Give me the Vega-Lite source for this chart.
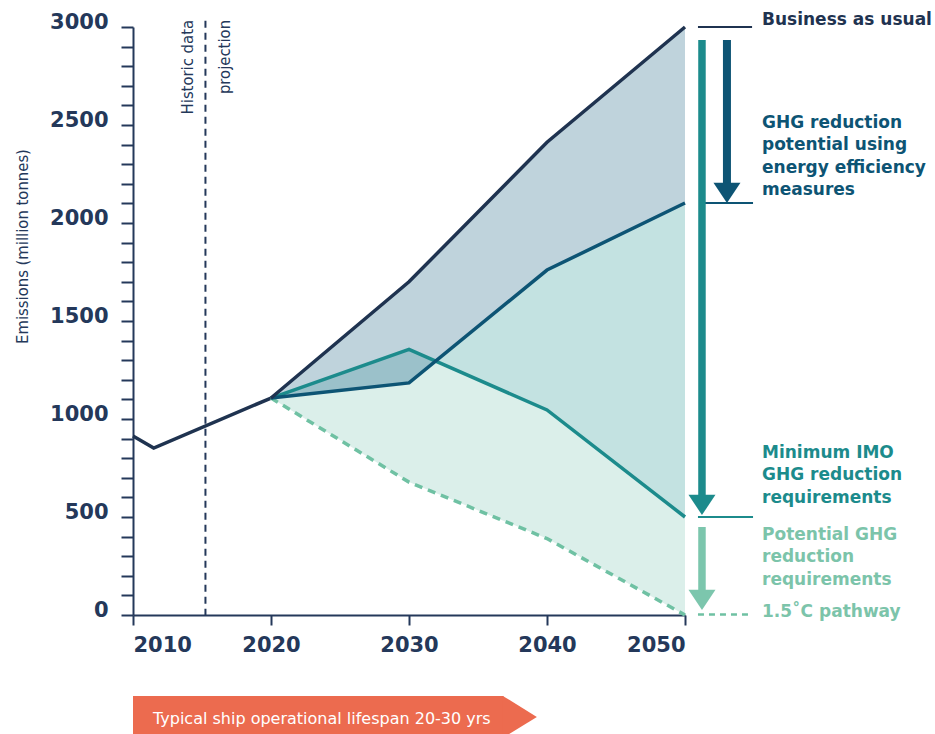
{
  "$schema": "https://vega.github.io/schema/vega-lite/v6.json",
  "width": 552,
  "height": 588,
  "autosize": {"type": "none"},
  "padding": {"left": 133, "top": 27, "right": 250, "bottom": 119},
  "background": "white",
  "config": {"view": {"stroke": null}},
  "resolve": {"axis": {"x": "independent", "y": "independent"}},
  "datasets": {
    "hist": [
      {"year": 2010, "value": 913},
      {"year": 2011.5, "value": 852},
      {"year": 2020, "value": 1107}
    ],
    "proj": [
      {"year": 2020, "bau": 1107, "eff": 1107, "imo": 1107, "p15": 1107},
      {"year": 2030, "bau": 1700, "eff": 1184, "imo": 1355, "p15": 678},
      {"year": 2040, "bau": 2412, "eff": 1760, "imo": 1046, "p15": 390},
      {"year": 2050, "bau": 3000, "eff": 2102, "imo": 500, "p15": 0}
    ],
    "blank": [{}]
  },
  "layer": [
    {
      "data": {"name": "proj"},
      "mark": {"type": "area", "color": "#dbefea"},
      "encoding": {
        "x": {"field": "year", "type": "quantitative",
          "scale": {"domain": [2010, 2050], "nice": false, "zero": false},
          "axis": {"values": [2010, 2020, 2030, 2040, 2050], "format": "d", "title": null, "grid": false,
            "tickSize": 10, "tickWidth": 2, "tickColor": "#24385a", "domainColor": "#24385a", "domainWidth": 2,
            "labelFont": "DejaVu Sans", "labelFontWeight": "bold", "labelFontSize": 21, "labelColor": "#24385a",
            "labelPadding": 9, "labelFlush": true, "labelOverlap": false}},
        "y": {"field": "p15", "type": "quantitative",
          "scale": {"domain": [0, 3000], "nice": false, "zero": false},
          "axis": {"values": [0,100,200,300,400,500,600,700,800,900,1000,1100,1200,1300,1400,1500,1600,1700,1800,1900,2000,2100,2200,2300,2400,2500,2600,2700,2800,2900,3000],
            "format": "d", "labelExpr": "datum.value % 500 === 0 ? datum.label : ''", "grid": false,
            "tickSize": 12, "tickWidth": 2, "tickColor": "#24385a", "domainColor": "#24385a", "domainWidth": 2,
            "labelFont": "DejaVu Sans", "labelFontWeight": "bold", "labelFontSize": 21, "labelColor": "#24385a",
            "labelPadding": 13, "labelBaseline": "middle", "labelOffset": -5, "labelOverlap": false, "labelBound": false,
            "title": "Emissions (million tonnes)", "titleFont": "Liberation Sans Narrow, DejaVu Sans Condensed, sans-serif",
            "titleFontWeight": "normal", "titleFontSize": 16.5, "titleColor": "#24385a",
            "titleX": -111, "titleY": 219, "titleAngle": -90, "titleAlign": "center", "titleBaseline": "middle"}},
        "y2": {"field": "imo"}
      }
    },
    {
      "data": {"name": "proj"},
      "mark": {"type": "area", "color": "#c3e2e1"},
      "encoding": {
        "x": {"field": "year", "type": "quantitative", "scale": {"domain": [2010, 2050], "nice": false, "zero": false}, "axis": null},
        "y": {"field": "imo", "type": "quantitative", "scale": {"domain": [0, 3000], "nice": false, "zero": false}, "axis": null},
        "y2": {"field": "eff"}
      }
    },
    {
      "data": {"name": "proj"},
      "mark": {"type": "area", "color": "#5f91a8", "opacity": 0.4},
      "encoding": {
        "x": {"field": "year", "type": "quantitative", "scale": {"domain": [2010, 2050], "nice": false, "zero": false}, "axis": null},
        "y": {"field": "eff", "type": "quantitative", "scale": {"domain": [0, 3000], "nice": false, "zero": false}, "axis": null},
        "y2": {"field": "bau"}
      }
    },
    {
      "data": {"name": "hist"},
      "mark": {"type": "line", "color": "#1f3350", "strokeWidth": 3.5},
      "encoding": {
        "x": {"field": "year", "type": "quantitative", "scale": {"domain": [2010, 2050], "nice": false, "zero": false}, "axis": null},
        "y": {"field": "value", "type": "quantitative", "scale": {"domain": [0, 3000], "nice": false, "zero": false}, "axis": null}
      }
    },
    {
      "data": {"name": "proj"},
      "mark": {"type": "line", "color": "#6fc1a3", "strokeWidth": 3.5, "strokeDash": [8, 6]},
      "encoding": {
        "x": {"field": "year", "type": "quantitative", "scale": {"domain": [2010, 2050], "nice": false, "zero": false}, "axis": null},
        "y": {"field": "p15", "type": "quantitative", "scale": {"domain": [0, 3000], "nice": false, "zero": false}, "axis": null}
      }
    },
    {
      "data": {"name": "proj"},
      "mark": {"type": "line", "color": "#1c8b8c", "strokeWidth": 3.5},
      "encoding": {
        "x": {"field": "year", "type": "quantitative", "scale": {"domain": [2010, 2050], "nice": false, "zero": false}, "axis": null},
        "y": {"field": "imo", "type": "quantitative", "scale": {"domain": [0, 3000], "nice": false, "zero": false}, "axis": null}
      }
    },
    {
      "data": {"name": "proj"},
      "mark": {"type": "line", "color": "#0d5474", "strokeWidth": 3.5},
      "encoding": {
        "x": {"field": "year", "type": "quantitative", "scale": {"domain": [2010, 2050], "nice": false, "zero": false}, "axis": null},
        "y": {"field": "eff", "type": "quantitative", "scale": {"domain": [0, 3000], "nice": false, "zero": false}, "axis": null}
      }
    },
    {
      "data": {"name": "proj"},
      "mark": {"type": "line", "color": "#1f3350", "strokeWidth": 3.5},
      "encoding": {
        "x": {"field": "year", "type": "quantitative", "scale": {"domain": [2010, 2050], "nice": false, "zero": false}, "axis": null},
        "y": {"field": "bau", "type": "quantitative", "scale": {"domain": [0, 3000], "nice": false, "zero": false}, "axis": null}
      }
    },
    {
      "data": {"name": "blank"},
      "mark": {"type": "rule", "color": "#24385a", "strokeWidth": 2, "strokeDash": [7, 5]},
      "encoding": {
        "x": {"datum": 2015.25, "type": "quantitative", "axis": null},
        "y": {"datum": 3032, "type": "quantitative", "axis": null},
        "y2": {"datum": 0}
      }
    },
    {
      "data": {"name": "blank"},
      "mark": {"type": "text", "text": "Historic data", "angle": 270, "align": "right", "baseline": "alphabetic",
        "font": "Liberation Sans Narrow, DejaVu Sans Condensed, sans-serif", "fontSize": 16.5, "color": "#24385a"},
      "encoding": {
        "x": {"datum": 2014.35, "type": "quantitative", "axis": null},
        "y": {"datum": 3036, "type": "quantitative", "axis": null}
      }
    },
    {
      "data": {"name": "blank"},
      "mark": {"type": "text", "text": "projection", "angle": 270, "align": "right", "baseline": "top",
        "font": "Liberation Sans Narrow, DejaVu Sans Condensed, sans-serif", "fontSize": 16.5, "color": "#24385a"},
      "encoding": {
        "x": {"datum": 2016.1, "type": "quantitative", "axis": null},
        "y": {"datum": 3036, "type": "quantitative", "axis": null}
      }
    },
    {
      "data": {"name": "blank"},
      "mark": {"type": "rule", "color": "#1f3350", "strokeWidth": 2},
      "encoding": {
        "x": {"datum": 2050.94, "type": "quantitative", "axis": null},
        "x2": {"datum": 2054.86},
        "y": {"datum": 3000, "type": "quantitative", "axis": null}
      }
    },
    {
      "data": {"name": "blank"},
      "mark": {"type": "rule", "color": "#0d5474", "strokeWidth": 2},
      "encoding": {
        "x": {"datum": 2051.45, "type": "quantitative", "axis": null},
        "x2": {"datum": 2054.93},
        "y": {"datum": 2102, "type": "quantitative", "axis": null}
      }
    },
    {
      "data": {"name": "blank"},
      "mark": {"type": "rule", "color": "#1c8b8c", "strokeWidth": 2},
      "encoding": {
        "x": {"datum": 2050.94, "type": "quantitative", "axis": null},
        "x2": {"datum": 2054.93},
        "y": {"datum": 500, "type": "quantitative", "axis": null}
      }
    },
    {
      "data": {"name": "blank"},
      "mark": {"type": "rule", "color": "#6fc1a3", "strokeWidth": 2.5, "strokeDash": [6, 5]},
      "encoding": {
        "x": {"datum": 2050.94, "type": "quantitative", "axis": null},
        "x2": {"datum": 2054.86},
        "y": {"datum": 3, "type": "quantitative", "axis": null}
      }
    },
    {
      "data": {"name": "blank"},
      "mark": {"type": "rule", "color": "#1c8b8c", "strokeWidth": 7.5},
      "encoding": {
        "x": {"datum": 2051.23, "type": "quantitative", "axis": null},
        "y": {"datum": 2934, "type": "quantitative", "axis": null},
        "y2": {"datum": 600}
      }
    },
    {
      "data": {"name": "blank"},
      "mark": {"type": "point", "shape": "M-1,-1.5L1,-1.5L0,0Z", "size": 729, "filled": true, "opacity": 1, "color": "#1c8b8c", "strokeWidth": 0},
      "encoding": {
        "x": {"datum": 2051.23, "type": "quantitative", "axis": null},
        "y": {"datum": 510, "type": "quantitative", "axis": null}
      }
    },
    {
      "data": {"name": "blank"},
      "mark": {"type": "rule", "color": "#0d5474", "strokeWidth": 8},
      "encoding": {
        "x": {"datum": 2053.04, "type": "quantitative", "axis": null},
        "y": {"datum": 2934, "type": "quantitative", "axis": null},
        "y2": {"datum": 2195}
      }
    },
    {
      "data": {"name": "blank"},
      "mark": {"type": "point", "shape": "M-1,-1.5L1,-1.5L0,0Z", "size": 729, "filled": true, "opacity": 1, "color": "#0d5474", "strokeWidth": 0},
      "encoding": {
        "x": {"datum": 2053.04, "type": "quantitative", "axis": null},
        "y": {"datum": 2102, "type": "quantitative", "axis": null}
      }
    },
    {
      "data": {"name": "blank"},
      "mark": {"type": "rule", "color": "#7cc6ad", "strokeWidth": 7.5},
      "encoding": {
        "x": {"datum": 2051.23, "type": "quantitative", "axis": null},
        "y": {"datum": 449, "type": "quantitative", "axis": null},
        "y2": {"datum": 115}
      }
    },
    {
      "data": {"name": "blank"},
      "mark": {"type": "point", "shape": "M-1,-1.5L1,-1.5L0,0Z", "size": 729, "filled": true, "opacity": 1, "color": "#7cc6ad", "strokeWidth": 0},
      "encoding": {
        "x": {"datum": 2051.23, "type": "quantitative", "axis": null},
        "y": {"datum": 25, "type": "quantitative", "axis": null}
      }
    },
    {
      "data": {"name": "blank"},
      "mark": {"type": "text", "text": "Business as usual", "align": "left", "baseline": "middle",
        "font": "DejaVu Sans", "fontWeight": "bold", "fontSize": 17, "color": "#1f3350"},
      "encoding": {
        "x": {"datum": 2055.58, "type": "quantitative", "axis": null},
        "y": {"datum": 3036, "type": "quantitative", "axis": null}
      }
    },
    {
      "data": {"name": "blank"},
      "mark": {"type": "text", "text": ["GHG reduction", "potential using", "energy efficiency", "measures"], "lineHeight": 22.3,
        "align": "left", "baseline": "middle", "font": "DejaVu Sans", "fontWeight": "bold", "fontSize": 17, "color": "#0d5474"},
      "encoding": {
        "x": {"datum": 2055.58, "type": "quantitative", "axis": null},
        "y": {"datum": 2510, "type": "quantitative", "axis": null}
      }
    },
    {
      "data": {"name": "blank"},
      "mark": {"type": "text", "text": ["Minimum IMO", "GHG reduction", "requirements"], "lineHeight": 22.3,
        "align": "left", "baseline": "middle", "font": "DejaVu Sans", "fontWeight": "bold", "fontSize": 17, "color": "#1c8b8c"},
      "encoding": {
        "x": {"datum": 2055.58, "type": "quantitative", "axis": null},
        "y": {"datum": 827, "type": "quantitative", "axis": null}
      }
    },
    {
      "data": {"name": "blank"},
      "mark": {"type": "text", "text": ["Potential GHG", "reduction", "requirements"], "lineHeight": 22.3,
        "align": "left", "baseline": "middle", "font": "DejaVu Sans", "fontWeight": "bold", "fontSize": 17, "color": "#7cc4aa"},
      "encoding": {
        "x": {"datum": 2055.58, "type": "quantitative", "axis": null},
        "y": {"datum": 408, "type": "quantitative", "axis": null}
      }
    },
    {
      "data": {"name": "blank"},
      "mark": {"type": "text", "text": "1.5˚C pathway", "align": "left", "baseline": "middle",
        "font": "DejaVu Sans", "fontWeight": "bold", "fontSize": 17, "color": "#7cc4aa"},
      "encoding": {
        "x": {"datum": 2055.58, "type": "quantitative", "axis": null},
        "y": {"datum": 15, "type": "quantitative", "axis": null}
      }
    },
    {
      "data": {"name": "blank"},
      "mark": {"type": "rect", "color": "#ec6b4f"},
      "encoding": {
        "x": {"datum": 2010, "type": "quantitative", "axis": null},
        "x2": {"datum": 2036.85},
        "y": {"datum": -413, "type": "quantitative", "axis": null},
        "y2": {"datum": -628}
      }
    },
    {
      "data": {"name": "blank"},
      "mark": {"type": "point", "shape": "M0,-1L1.62,0L0,1Z", "size": 1764, "filled": true, "opacity": 1, "color": "#ec6b4f", "strokeWidth": 0},
      "encoding": {
        "x": {"datum": 2036.8, "type": "quantitative", "axis": null},
        "y": {"datum": -520, "type": "quantitative", "axis": null}
      }
    },
    {
      "data": {"name": "blank"},
      "mark": {"type": "text", "text": "Typical ship operational lifespan 20-30 yrs", "align": "left", "baseline": "middle",
        "font": "DejaVu Sans", "fontSize": 16, "color": "white"},
      "encoding": {
        "x": {"datum": 2011.45, "type": "quantitative", "axis": null},
        "y": {"datum": -531, "type": "quantitative", "axis": null}
      }
    }
  ]
}
